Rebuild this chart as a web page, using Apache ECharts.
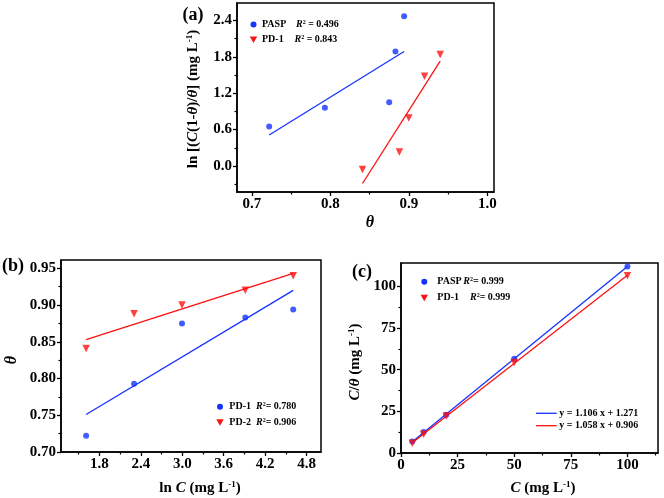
<!DOCTYPE html>
<html><head><meta charset="utf-8">
<script src="https://cdn.jsdelivr.net/npm/echarts@6/dist/echarts.min.js"></script>
<style>html,body{margin:0;padding:0;background:#fff}#c{width:664px;height:498px}</style>
</head><body><div id="c"></div>
<script>
// ---- Panel (a) ----
const aThetaPASP = [0.722, 0.793, 0.875, 0.883, 0.894];
const aLnPASP    = [0.65, 0.96, 1.05, 1.89, 2.47];
const aThetaPD1  = [0.841, 0.888, 0.900, 0.920, 0.940];
const aLnPD1     = [-0.06, 0.23, 0.79, 1.48, 1.84];
const aFitPASPx  = [0.722, 0.894];
const aFitPASPy  = [0.51, 1.89];
const aFitPD1x   = [0.841, 0.940];
const aFitPD1y   = [-0.29, 1.73];
const aXTicks = [0.7, 0.8, 0.9, 1.0];
const aXMinor = [0.75, 0.85, 0.95];
const aYTicks = [0.0, 0.6, 1.2, 1.8, 2.4];
const aYMinor = [-0.3, 0.3, 0.9, 1.5, 2.1];
// ---- Panel (b) ----
const bLnC      = [1.609, 2.303, 2.996, 3.912, 4.605];
const bThetaPD1 = [0.722, 0.793, 0.875, 0.883, 0.894];
const bThetaPD2 = [0.841, 0.888, 0.900, 0.920, 0.940];
const bFitX     = [1.609, 4.605];
const bFitPD1   = [0.751, 0.920];
const bFitPD2   = [0.853, 0.943];
const bXTicks = [1.8, 2.4, 3.0, 3.6, 4.2, 4.8];
const bXMinor = [1.5, 2.1, 2.7, 3.3, 3.9, 4.5];
const bYTicks = [0.70, 0.75, 0.80, 0.85, 0.90, 0.95];
const bYMinor = [0.725, 0.775, 0.825, 0.875, 0.925];
// ---- Panel (c) ----
const cC     = [5, 10, 20, 50, 100];
const cPASP  = [6.9, 12.6, 22.9, 56.6, 111.9];
const cPD1   = [5.9, 11.3, 22.2, 54.3, 106.4];
const cFitX  = [5, 100];
const cFitPASP = [6.80, 111.87];
const cFitPD1  = [6.20, 106.71];
const cXTicks = [0, 25, 50, 75, 100];
const cXMinor = [12.5, 37.5, 62.5, 87.5, 112.5];
const cYTicks = [0, 25, 50, 75, 100];
const cYMinor = [12.5, 37.5, 62.5, 87.5];

const BLUE = '#1433ff', RED = '#ff1010';
const FF = '"Liberation Serif","Times New Roman",serif';
const zip = (xs, ys) => xs.map((x, i) => [x, ys[i]]);

const grids = [
  {left: 237, top: 3, width: 257, height: 189},
  {left: 61, top: 260, width: 260, height: 192},
  {left: 401, top: 263, width: 257, height: 190}
].map(g => Object.assign(g, {show: true, borderColor: '#000', borderWidth: 1.5, backgroundColor: 'transparent', containLabel: false, outerBoundsMode: 'none'}));

function mainAxis(gi, pos, min, max, ticks, dec) {
  return {
    type: 'value', gridIndex: gi, position: pos, min, max, splitLine: {show: false},
    axisLine: {show: true, onZero: false, lineStyle: {color: '#000', width: 1.5}},
    axisTick: {show: true, inside: false, length: 4, customValues: ticks, lineStyle: {color: '#000', width: 1.3}},
    axisLabel: {show: true, customValues: ticks, margin: 5, color: '#000', fontFamily: FF, fontWeight: 'bold', fontSize: 15,
      formatter: v => Number(v).toFixed(dec)}
  };
}
function minorAxis(gi, pos, min, max, ticks) {
  return {
    type: 'value', gridIndex: gi, position: pos, min, max, splitLine: {show: false},
    axisLine: {show: false, onZero: false},
    axisTick: {show: true, inside: false, length: 2.5, customValues: ticks, lineStyle: {color: '#000', width: 1.2}},
    axisLabel: {show: false}
  };
}
const xAxis = [
  mainAxis(0, 'bottom', 0.681, 1.0086, aXTicks, 1),
  mainAxis(1, 'bottom', 1.246, 5.007, bXTicks, 1),
  mainAxis(2, 'bottom', 0, 113.5, cXTicks, 0),
  minorAxis(0, 'bottom', 0.681, 1.0086, aXMinor),
  minorAxis(1, 'bottom', 1.246, 5.007, bXMinor),
  minorAxis(2, 'bottom', 0, 113.5, cXMinor)
];
const yAxis = [
  mainAxis(0, 'left', -0.43, 2.69, aYTicks, 1),
  mainAxis(1, 'left', 0.70, 0.9613, bYTicks, 2),
  mainAxis(2, 'left', 0, 114, cYTicks, 0),
  minorAxis(0, 'left', -0.43, 2.69, aYMinor),
  minorAxis(1, 'left', 0.70, 0.9613, bYMinor),
  minorAxis(2, 'left', 0, 114, cYMinor)
];

function pts(i, data, color, tri) {
  return {type: 'scatter', xAxisIndex: i, yAxisIndex: i, data, symbol: tri ? 'triangle' : 'circle',
    symbolSize: tri ? 7.5 : 6, symbolRotate: tri ? 180 : 0, itemStyle: {color}, z: 3, silent: true};
}
function fit(i, data, color) {
  return {type: 'line', xAxisIndex: i, yAxisIndex: i, data, symbol: 'none', lineStyle: {color, width: 1.3}, z: 2, silent: true};
}
const series = [
  fit(0, zip(aFitPASPx, aFitPASPy), BLUE), fit(0, zip(aFitPD1x, aFitPD1y), RED),
  pts(0, zip(aThetaPASP, aLnPASP), BLUE, false), pts(0, zip(aThetaPD1, aLnPD1), RED, true),
  fit(1, zip(bFitX, bFitPD1), BLUE), fit(1, zip(bFitX, bFitPD2), RED),
  pts(1, zip(bLnC, bThetaPD1), BLUE, false), pts(1, zip(bLnC, bThetaPD2), RED, true),
  fit(2, zip(cFitX, cFitPASP), BLUE), fit(2, zip(cFitX, cFitPD1), RED),
  pts(2, zip(cC, cPASP), BLUE, false), pts(2, zip(cC, cPD1), RED, true)
];

const rich = (fs) => ({
  n: {fontFamily: FF, fontWeight: 'bold', fontSize: fs, fill: '#000'},
  i: {fontFamily: FF, fontWeight: 'bold', fontStyle: 'italic', fontSize: fs, fill: '#000'},
  s: {fontFamily: FF, fontWeight: 'bold', fontSize: Math.round(fs * 0.6), fill: '#000', verticalAlign: 'top'}
});
function txt(x, y, text, fs, opts) {
  opts = opts || {};
  return {type: 'text', x, y, rotation: opts.rot || 0, z: 100,
    style: {text, rich: rich(fs), fontFamily: FF, fontWeight: 'bold', fontSize: fs, fill: '#000',
      align: opts.align || 'left', verticalAlign: 'middle'}};
}
function dot(x, y, color) { return {type: 'circle', shape: {cx: x, cy: y, r: 3}, style: {fill: color}, z: 100}; }
function tri(x, y, color) { return {type: 'polygon', shape: {points: [[x - 3.7, y - 3], [x + 3.7, y - 3], [x, y + 3.5]]}, style: {fill: color}, z: 100}; }
function seg(x1, x2, y, color) { return {type: 'line', shape: {x1, y1: y, x2, y2: y}, style: {stroke: color, lineWidth: 1.3}, z: 100}; }

const LF = 10;
const graphic = [
  // panel labels
  txt(193, 15, '{n|(a)}', 18, {align: 'center'}),
  txt(13, 266, '{n|(b)}', 18, {align: 'center'}),
  txt(362, 272, '{n|(c)}', 18, {align: 'center'}),
  // axis names
  txt(193, 99, '{n|ln [(}{i|C}{n|(1-}{i|θ}{n|)/}{i|θ}{n|] (mg L}{s|-1}{n|)}', 15, {align: 'center', rot: Math.PI / 2}),
  txt(370, 223, '{i|θ}', 16, {align: 'center'}),
  txt(12, 360, '{i|θ}', 16, {align: 'center', rot: Math.PI / 2}),
  txt(200, 488, '{n|ln }{i|C}{n| (mg L}{s|-1}{n|)}', 15, {align: 'center'}),
  txt(355, 362, '{i|C}{n|/}{i|θ}{n| (mg L}{s|-1}{n|)}', 15, {align: 'center', rot: Math.PI / 2}),
  txt(543, 488, '{i|C}{n| (mg L}{s|-1}{n|)}', 15, {align: 'center'}),
  // legend (a)
  dot(253.5, 24.5, BLUE), txt(262, 24.5, '{n|PASP}', LF), txt(296, 24.5, '{i|R}{s|2}{n| = 0.496}', LF),
  tri(253.5, 39.5, RED), txt(262, 39.5, '{n|PD-1}', LF), txt(294.5, 39.5, '{i|R}{s|2}{n| = 0.843}', LF),
  // legend (b)
  dot(220, 406.7, BLUE), txt(229.3, 406.7, '{n|PD-1}', LF), txt(256, 406.7, '{i|R}{s|2}{n|= 0.780}', LF),
  tri(220, 422.3, RED), txt(229.3, 422.3, '{n|PD-2}', LF), txt(256, 422.3, '{i|R}{s|2}{n|= 0.906}', LF),
  // legend (c)
  dot(424.3, 281.7, BLUE), txt(437.3, 281.7, '{n|PASP}', LF), txt(463.3, 281.7, '{i|R}{s|2}{n|= 0.999}', LF),
  tri(424.3, 297.7, RED), txt(437.3, 297.7, '{n|PD-1}', LF), txt(470, 297.7, '{i|R}{s|2}{n|= 0.999}', LF),
  seg(536, 556.7, 413.3, BLUE), txt(559.3, 413.3, '{n|y = 1.106 x + 1.271}', LF),
  seg(536, 556.7, 425.7, RED), txt(559.3, 425.7, '{n|y = 1.058 x + 0.906}', LF)
];

const chart = echarts.init(document.getElementById('c'), null, {renderer: 'canvas'});
chart.setOption({animation: false, backgroundColor: '#fff', grid: grids, xAxis, yAxis, series, graphic});
</script></body></html>
